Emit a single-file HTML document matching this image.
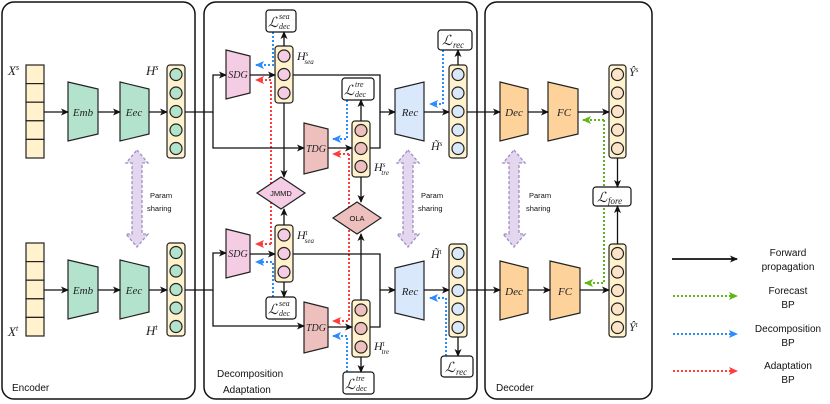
<!DOCTYPE html>
<html><head><meta charset="utf-8"><style>
html,body{margin:0;padding:0;background:#fff;}
svg{display:block;}
.m{font-family:"Liberation Serif",serif;font-style:italic;fill:#222;}
.s{font-family:"Liberation Sans",sans-serif;fill:#111;}
</style></head><body>
<svg width="830" height="404" viewBox="0 0 830 404" xmlns="http://www.w3.org/2000/svg">
<defs>
<marker id="ak" markerWidth="8" markerHeight="8" refX="7" refY="4" orient="auto" markerUnits="userSpaceOnUse"><path d="M0,0.5 L8,4 L0,7.5 L2,4z" fill="#111"/></marker>
<marker id="ab" markerWidth="9" markerHeight="9" refX="8" refY="4.5" orient="auto" markerUnits="userSpaceOnUse"><path d="M0,0.5 L9,4.5 L0,8.5 L2,4.5z" fill="#2b8cff"/></marker>
<marker id="ar" markerWidth="9" markerHeight="9" refX="8" refY="4.5" orient="auto" markerUnits="userSpaceOnUse"><path d="M0,0.5 L9,4.5 L0,8.5 L2,4.5z" fill="#ff3b3b"/></marker>
<marker id="ag" markerWidth="9" markerHeight="9" refX="8" refY="4.5" orient="auto" markerUnits="userSpaceOnUse"><path d="M0,0.5 L9,4.5 L0,8.5 L2,4.5z" fill="#5fb81a"/></marker>
</defs>
<g fill="none" stroke="#111" stroke-width="1.5">
<rect x="2" y="2" width="193" height="397" rx="12"/>
<rect x="204" y="2" width="273" height="397" rx="12"/>
<rect x="485" y="2" width="167" height="397" rx="12"/>
</g>
<text class="s" x="12" y="391" font-size="10">Encoder</text>
<text class="s" x="217" y="377" font-size="10">Decomposition</text>
<text class="s" x="223" y="393" font-size="10">Adaptation</text>
<text class="s" x="496" y="391" font-size="10">Decoder</text>

<g fill="#e3d7ef" stroke="#a38cc4" stroke-width="1.3" stroke-dasharray="3,2">
<path d="M137,150 L148,163 L142,163 L142,234 L148,234 L137,247 L126,234 L132,234 L132,163 L126,163Z"/>
<path d="M408,150 L419,163 L413,163 L413,234 L419,234 L408,247 L397,234 L403,234 L403,163 L397,163Z"/>
<path d="M514,150 L525,163 L519,163 L519,234 L525,234 L514,247 L503,234 L509,234 L509,163 L503,163Z"/>
</g>
<g class="s" font-size="7.5">
<text x="150" y="198">Param</text><text x="147" y="211">sharing</text>
<text x="421" y="198">Param</text><text x="418" y="211">sharing</text>
<text x="529" y="198">Param</text><text x="526" y="211">sharing</text>
</g>

<g stroke="#222" stroke-width="1.2" fill="#fff2cc">
<rect x="26" y="65" width="18" height="18.6"/><rect x="26" y="83.6" width="18" height="18.6"/><rect x="26" y="102.2" width="18" height="18.6"/><rect x="26" y="120.8" width="18" height="18.6"/><rect x="26" y="139.4" width="18" height="18.6"/>
<rect x="26" y="243" width="18" height="18.6"/><rect x="26" y="261.6" width="18" height="18.6"/><rect x="26" y="280.2" width="18" height="18.6"/><rect x="26" y="298.8" width="18" height="18.6"/><rect x="26" y="317.4" width="18" height="18.6"/>
</g>
<g stroke="#222" stroke-width="1.2" fill="#b3e2cd">
<polygon points="68,82 98,89 98,134 68,141"/>
<polygon points="120,82 149,89 149,134 120,141"/>
<polygon points="68,260 98,267 98,312 68,319"/>
<polygon points="120,260 149,267 149,312 120,319"/>
</g>
<g class="m" font-size="11" text-anchor="middle">
<text x="83" y="116">Emb</text><text x="134" y="116">Eec</text>
<text x="83" y="294">Emb</text><text x="134" y="294">Eec</text>
</g>
<text class="m" x="8" y="75" font-size="13">X<tspan font-size="8" dy="-5">s</tspan></text>
<text class="m" x="8" y="336" font-size="13">X<tspan font-size="8" dy="-5">t</tspan></text>
<text class="m" x="146" y="75" font-size="13">H<tspan font-size="8" dy="-5">s</tspan></text>
<text class="m" x="146" y="335" font-size="13">H<tspan font-size="8" dy="-5">t</tspan></text>

<g stroke="#222" stroke-width="1.2">
<rect x="167" y="65" width="18" height="93" rx="3" fill="#fff2cc"/>
<rect x="167" y="243" width="18" height="93" rx="3" fill="#fff2cc"/>
<rect x="449" y="65" width="18" height="93" rx="3" fill="#fff2cc"/>
<rect x="449" y="244" width="18" height="93" rx="3" fill="#fff2cc"/>
<rect x="609" y="65" width="17" height="93" rx="3" fill="#fff2cc"/>
<rect x="609" y="244" width="17" height="93" rx="3" fill="#fff2cc"/>
<rect x="275" y="46" width="18" height="57" rx="3" fill="#fff2cc"/>
<rect x="275" y="225" width="18" height="57" rx="3" fill="#fff2cc"/>
<rect x="352" y="121" width="18" height="56" rx="3" fill="#fff2cc"/>
<rect x="352" y="300" width="18" height="57" rx="3" fill="#fff2cc"/>
<g fill="#b3e2cd">
<circle cx="176" cy="74.5" r="6"/><circle cx="176" cy="93" r="6"/><circle cx="176" cy="111.5" r="6"/><circle cx="176" cy="130" r="6"/><circle cx="176" cy="148.5" r="6"/>
<circle cx="176" cy="252.5" r="6"/><circle cx="176" cy="271" r="6"/><circle cx="176" cy="289.5" r="6"/><circle cx="176" cy="308" r="6"/><circle cx="176" cy="326.5" r="6"/>
</g>
<g fill="#dae8fc">
<circle cx="458" cy="74.5" r="6"/><circle cx="458" cy="93" r="6"/><circle cx="458" cy="111.5" r="6"/><circle cx="458" cy="130" r="6"/><circle cx="458" cy="148.5" r="6"/>
<circle cx="458" cy="253.5" r="6"/><circle cx="458" cy="272" r="6"/><circle cx="458" cy="290.5" r="6"/><circle cx="458" cy="309" r="6"/><circle cx="458" cy="327.5" r="6"/>
</g>
<g fill="#fde3c8">
<circle cx="617.5" cy="74.5" r="6"/><circle cx="617.5" cy="93" r="6"/><circle cx="617.5" cy="111.5" r="6"/><circle cx="617.5" cy="130" r="6"/><circle cx="617.5" cy="148.5" r="6"/>
<circle cx="617.5" cy="253.5" r="6"/><circle cx="617.5" cy="272" r="6"/><circle cx="617.5" cy="290.5" r="6"/><circle cx="617.5" cy="309" r="6"/><circle cx="617.5" cy="327.5" r="6"/>
</g>
<g fill="#f4cce4">
<circle cx="284" cy="56" r="6"/><circle cx="284" cy="74.5" r="6"/><circle cx="284" cy="93" r="6"/>
<circle cx="284" cy="235" r="6"/><circle cx="284" cy="253.5" r="6"/><circle cx="284" cy="272" r="6"/>
</g>
<g fill="#eec0bd">
<circle cx="361" cy="130.5" r="6"/><circle cx="361" cy="148.5" r="6"/><circle cx="361" cy="166.5" r="6"/>
<circle cx="361" cy="310" r="6"/><circle cx="361" cy="328.5" r="6"/><circle cx="361" cy="347" r="6"/>
</g>
</g>

<!-- dotted BP arrows (behind shapes) -->
<g fill="none" stroke-width="2" stroke-dasharray="2,2">
<path d="M273,32 V65 H256" stroke="#2b8cff" marker-end="url(#ab)"/>
<path d="M271,244 V80 H256" stroke="#ff3b3b" marker-end="url(#ar)"/>
<path d="M271,244 H256" stroke="#ff3b3b" marker-end="url(#ar)"/>
<path d="M273,297 V262 H256" stroke="#2b8cff" marker-end="url(#ab)"/>
<path d="M347,100 V139 H333" stroke="#2b8cff" marker-end="url(#ab)"/>
<path d="M349,154 V321 H333" stroke="#ff3b3b" marker-end="url(#ar)"/>
<path d="M349,154 H333" stroke="#ff3b3b" marker-end="url(#ar)"/>
<path d="M347,372 V336 H333" stroke="#2b8cff" marker-end="url(#ab)"/>
<path d="M443,50 V104 H430" stroke="#2b8cff" marker-end="url(#ab)"/>
<path d="M446,356 V298 H430" stroke="#2b8cff" marker-end="url(#ab)"/>
<path d="M604,120 H583" stroke="#5fb81a" marker-end="url(#ag)"/>
<path d="M604,120 V283 H585" stroke="#5fb81a" marker-end="url(#ag)"/>
<path d="M673,296 H737" stroke="#5fb81a" marker-end="url(#ag)"/>
<path d="M673,334 H737" stroke="#2b8cff" marker-end="url(#ab)"/>
<path d="M673,371 H737" stroke="#ff3b3b" marker-end="url(#ar)"/>
</g>

<g stroke="#222" stroke-width="1.2">
<polygon points="226,50 250,56 250,93 226,99" fill="#f4cce4"/>
<polygon points="226,229 250,235 250,272 226,278" fill="#f4cce4"/>
<polygon points="304,123 328,129 328,168 304,174" fill="#eec0bd"/>
<polygon points="304,302 328,308 328,347 304,353" fill="#eec0bd"/>
<polygon points="395,89 424,82 424,141 395,134" fill="#dae8fc"/>
<polygon points="395,268 424,261 424,320 395,313" fill="#dae8fc"/>
<polygon points="257,193 281,177 305,193 281,209" fill="#f4cce4"/>
<polygon points="333,218 357,202 381,218 357,234" fill="#eec0bd"/>
<polygon points="500,82 528,89 528,134 500,141" fill="#fdd39b"/>
<polygon points="548,82 578,89 578,134 548,141" fill="#fdd39b"/>
<polygon points="500,261 528,268 528,313 500,320" fill="#fdd39b"/>
<polygon points="550,261 580,268 580,313 550,320" fill="#fdd39b"/>
</g>
<g class="m" font-size="10" text-anchor="middle">
<text x="238" y="78">SDG</text><text x="238" y="257">SDG</text>
<text x="316" y="152">TDG</text><text x="316" y="331">TDG</text>
<text x="410" y="116" font-size="11">Rec</text><text x="410" y="295" font-size="11">Rec</text>
<text x="514" y="116" font-size="11">Dec</text><text x="564" y="116" font-size="11">FC</text>
<text x="514" y="295" font-size="11">Dec</text><text x="565" y="295" font-size="11">FC</text>
</g>
<text class="s" x="281" y="196" font-size="7.5" text-anchor="middle">JMMD</text>
<text class="s" x="357" y="221" font-size="7.5" text-anchor="middle">OLA</text>

<g fill="#fff" stroke="#111" stroke-width="1.2">
<rect x="266" y="10" width="30" height="22" rx="3"/>
<rect x="342" y="78" width="32" height="22" rx="3"/>
<rect x="438" y="30" width="34" height="20" rx="3"/>
<rect x="266" y="297" width="30" height="22" rx="3"/>
<rect x="343" y="372" width="31" height="22" rx="3"/>
<rect x="441" y="356" width="32" height="21" rx="3"/>
<rect x="593" y="187" width="38" height="19" rx="3"/>
</g>
<g class="m" font-size="14">
<text x="268" y="27">ℒ</text><text x="279" y="19" font-size="8">sea</text><text x="279" y="29" font-size="8">dec</text>
<text x="344" y="95">ℒ</text><text x="355" y="87" font-size="8">tre</text><text x="355" y="97" font-size="8">dec</text>
<text x="442" y="45">ℒ</text><text x="453" y="48" font-size="9">rec</text>
<text x="268" y="314">ℒ</text><text x="279" y="306" font-size="8">sea</text><text x="279" y="316" font-size="8">dec</text>
<text x="345" y="389">ℒ</text><text x="356" y="381" font-size="8">tre</text><text x="356" y="391" font-size="8">dec</text>
<text x="445" y="372">ℒ</text><text x="456" y="375" font-size="9">rec</text>
<text x="597" y="202">ℒ</text><text x="608" y="204" font-size="9">fore</text>
</g>
<g class="m" font-size="12">
<text x="297" y="60">H<tspan font-size="7" dy="-4">s</tspan><tspan font-size="7" dx="-4" dy="8">sea</tspan></text>
<text x="297" y="239">H<tspan font-size="7" dy="-4">t</tspan><tspan font-size="7" dx="-3" dy="8">sea</tspan></text>
<text x="374" y="171">H<tspan font-size="7" dy="-4">s</tspan><tspan font-size="7" dx="-4" dy="8">tre</tspan></text>
<text x="374" y="350">H<tspan font-size="7" dy="-4">t</tspan><tspan font-size="7" dx="-3" dy="8">tre</tspan></text>
<text x="431" y="150">H̃<tspan font-size="7" dy="-4">s</tspan></text>
<text x="431" y="258">H̃<tspan font-size="7" dy="-4">t</tspan></text>
<text x="629" y="76">Ŷ<tspan font-size="7" dy="-4">s</tspan></text>
<text x="629" y="331">Ŷ<tspan font-size="7" dy="-4">t</tspan></text>
</g>

<g fill="none" stroke="#111" stroke-width="1.3">
<path d="M44,112 H68" marker-end="url(#ak)"/>
<path d="M98,112 H120" marker-end="url(#ak)"/>
<path d="M149,112 H167" marker-end="url(#ak)"/>
<path d="M44,290 H68" marker-end="url(#ak)"/>
<path d="M98,290 H120" marker-end="url(#ak)"/>
<path d="M149,290 H167" marker-end="url(#ak)"/>
<path d="M185,112 H213 V75 H226" marker-end="url(#ak)"/>
<path d="M213,112 V148 H304" marker-end="url(#ak)"/>
<path d="M185,290 H213 V253 H226" marker-end="url(#ak)"/>
<path d="M213,290 V326 H304" marker-end="url(#ak)"/>
<path d="M250,75 H275" marker-end="url(#ak)"/>
<path d="M250,254 H275" marker-end="url(#ak)"/>
<path d="M328,148 H352" marker-end="url(#ak)"/>
<path d="M328,327 H352" marker-end="url(#ak)"/>
<path d="M284,46 V32" marker-end="url(#ak)"/>
<path d="M284,282 V297" marker-end="url(#ak)"/>
<path d="M361,121 V100" marker-end="url(#ak)"/>
<path d="M361,357 V372" marker-end="url(#ak)"/>
<path d="M284,103 V177" marker-end="url(#ak)"/>
<path d="M284,225 V209" marker-end="url(#ak)"/>
<path d="M361,177 V202" marker-end="url(#ak)"/>
<path d="M361,300 V234" marker-end="url(#ak)"/>
<path d="M293,75 H380 V112 H395" marker-end="url(#ak)"/>
<path d="M370,148 H380 V112"/>
<path d="M293,254 H380 V290 H395" marker-end="url(#ak)"/>
<path d="M370,327 H380 V290"/>
<path d="M424,112 H449" marker-end="url(#ak)"/>
<path d="M424,290 H449" marker-end="url(#ak)"/>
<path d="M458,65 V50" marker-end="url(#ak)"/>
<path d="M458,337 V356" marker-end="url(#ak)"/>
<path d="M467,112 H500" marker-end="url(#ak)"/>
<path d="M467,290 H500" marker-end="url(#ak)"/>
<path d="M528,112 H548" marker-end="url(#ak)"/>
<path d="M528,290 H550" marker-end="url(#ak)"/>
<path d="M578,112 H609" marker-end="url(#ak)"/>
<path d="M580,290 H609" marker-end="url(#ak)"/>
<path d="M617.5,158 V187" marker-end="url(#ak)"/>
<path d="M617.5,244 V206" marker-end="url(#ak)"/>
<path d="M672,259 H737" stroke-width="1.8" marker-end="url(#ak)"/>
</g>

<g class="s" font-size="10" text-anchor="middle">
<text x="788" y="256">Forward</text><text x="788" y="270">propagation</text>
<text x="788" y="294">Forecast</text><text x="788" y="308">BP</text>
<text x="788" y="332">Decomposition</text><text x="788" y="346">BP</text>
<text x="788" y="369">Adaptation</text><text x="788" y="383">BP</text>
</g>
</svg>
</body></html>
